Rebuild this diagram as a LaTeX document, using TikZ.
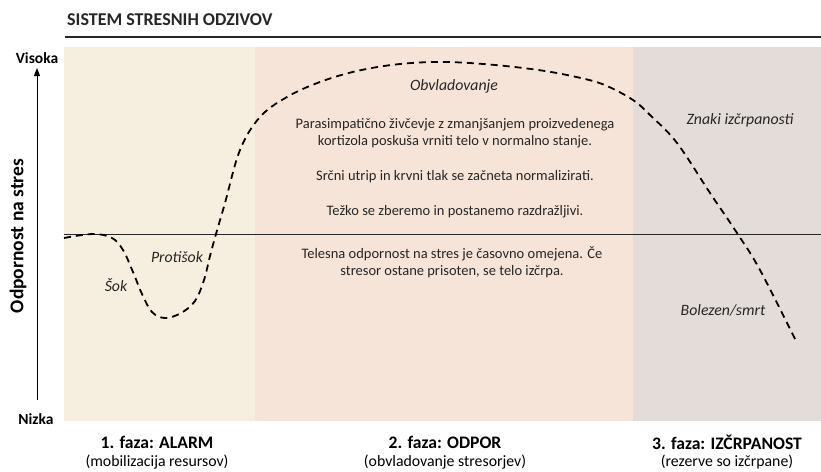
\documentclass[tikz,border=0pt]{standalone}
\usepackage{fontspec}
\setmainfont{Carlito}
\usetikzlibrary{arrows.meta}
\definecolor{bandA}{RGB}{246,238,222}
\definecolor{bandB}{RGB}{247,228,216}
\definecolor{bandC}{RGB}{228,220,217}
\definecolor{ink}{RGB}{38,38,38}
\tikzset{
  body/.style={font=\fontsize{14.5}{17}\selectfont, text=ink, align=center, inner sep=0pt},
  itlabel/.style={font=\fontsize{15.8}{18}\selectfont\itshape, text=ink, inner sep=0pt},
  axlabel/.style={font=\fontsize{15.5}{18}\selectfont\bfseries, text=black, inner sep=0pt},
  phase/.style={font=\fontsize{17.6}{20}\selectfont\bfseries, text=black, inner sep=0pt},
  phasesub/.style={font=\fontsize{15.8}{18}\selectfont, text=black, inner sep=0pt},
  curve/.style={line width=1.8pt, dash pattern=on 7pt off 5pt, black},
}
\begin{document}
\begin{tikzpicture}[x=1pt,y=-1pt]
\useasboundingbox (0,0) rectangle (821,471);
\fill[white] (0,0) rectangle (821,471);
% bands
\fill[bandA] (64,47) rectangle (255,421);
\fill[bandB] (255,47) rectangle (633,421);
\fill[bandC] (633,47) rectangle (821,421);
% title
\node[anchor=west, font=\fontsize{18}{20}\selectfont\bfseries, text=ink, inner sep=0pt] (title) at (67,20) {SISTEM STRESNIH ODZIVOV};
\draw[ink, line width=1.2pt] (65,37) -- (821,37);
% mid line
\draw[ink, line width=1pt] (64,234) -- (821,234);
% axis
\node[axlabel] (hi) at (37,58) {Visoka};
\node[axlabel] (lo) at (36,419) {Nizka};
\coordinate (abot) at (37,400);
\coordinate (atop) at (37,68);
\draw[black, line width=1pt, -{Triangle[width=6pt,length=8pt]}] (abot) -- (atop);
\node[font=\fontsize{19.5}{22}\selectfont\bfseries, text=black, inner sep=0pt, rotate=90] (yl) at (18,236) {Odpornost na stres};
% curve
\draw[curve] plot[smooth, tension=0.6] coordinates {
(64,238) (93,234) (112,238) (123,250) (133,272) (142,294) (152,312) (165,318) (181,313) (195,301) (204,280) (210,256) (216,234) (225,203) (240,150) (260,117) (287,97) (320,82) (357,71) (400,64) (445,62) (495,65) (545,71) (585,79) (607,86) (633,100) (650,115) (677,143) (710,193) (737,233) (760,270) (797,343)};
% labels
\node[itlabel] (sok) at (116,285) {Šok};
\node[itlabel] (pro) at (177,257) {Protišok};
\node[itlabel] (obv) at (454,86) {Obvladovanje};
\node[itlabel] (zn) at (740,120) {Znaki izčrpanosti};
\node[itlabel] (bol) at (723,310) {Bolezen/smrt};
\node[body] (p1) at (455,133) {Parasimpatično živčevje z zmanjšanjem proizvedenega\\kortizola poskuša vrniti telo v normalno stanje.};
\node[body] (p2) at (455,177) {Srčni utrip in krvni tlak se začneta normalizirati.};
\node[body] (p3) at (455,212) {Težko se zberemo in postanemo razdražljivi.};
\node[body] (p4) at (452,262) {Telesna odpornost na stres je časovno omejena. Če\\stresor ostane prisoten, se telo izčrpa.};
% phases
\node[phase] (f1) at (157,442) {1. faza: ALARM};
\node[phasesub] (s1) at (157,462) {(mobilizacija resursov)};
\node[phase] (f2) at (445,442) {2. faza: ODPOR};
\node[phasesub] (s2) at (445,462) {(obvladovanje stresorjev)};
\node[phase] (f3) at (727,442) {3. faza: IZČRPANOST};
\node[phasesub] (s3) at (727,462) {(rezerve so izčrpane)};
\end{tikzpicture}
\end{document}
